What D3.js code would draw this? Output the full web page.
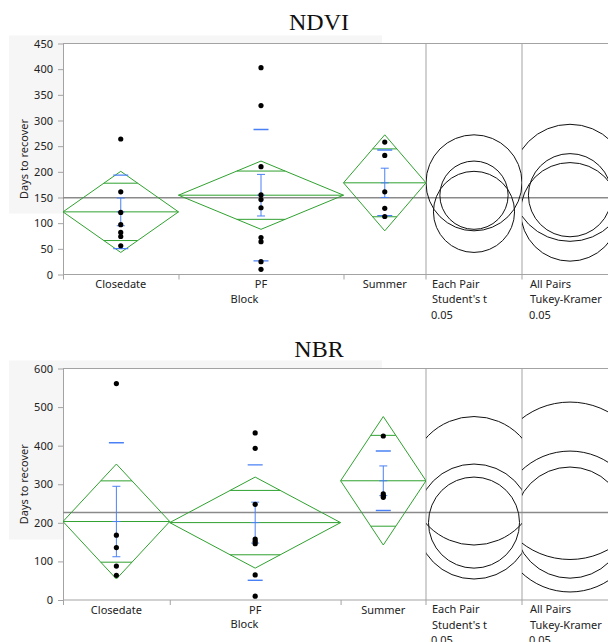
<!DOCTYPE html>
<html>
<head>
<meta charset="utf-8">
<script src="https://cdn.jsdelivr.net/npm/d3@7"></script>
<style>
  body { margin: 0; background: #fff; }
</style>
</head>
<body>
<div id="chart"></div>
<script>
/* One-way analysis of Days to recover by Block (NDVI / NBR) */

const groups = ["Closedate", "PF", "Summer"];

// NDVI panel
const ndviPoints = [
  [264, 161, 121, 97, 82, 74, 56],
  [403, 329, 210, 155, 146, 130, 72, 64, 25, 10],
  [258, 232, 161, 129, 113]
];
const ndviMean = [122, 154.5, 178.6];
const ndviCI = [79, 66.5, 93.5];      // 95% CI half width (diamond / Student's t circle)
const ndviSD = [71.5, 128, 64];
const ndviSE = [27, 40.5, 28.5];
const ndviTukey = [96, 81, 114];      // Tukey-Kramer circle radius
const ndviGrand = 149.5;
const ndviTicks = [0, 50, 100, 150, 200, 250, 300, 350, 400, 450];

// NBR panel
const nbrPoints = [
  [561, 168, 136, 88, 64],
  [433, 393, 248, 158, 152, 146, 65, 10],
  [425, 275, 270, 266]
];
const nbrMean = [203.4, 200.6, 309];
const nbrCI = [149, 118, 166.5];
const nbrSD = [204, 149.5, 77];
const nbrSE = [91.3, 53, 38.5];
const nbrTukey = [182.6, 144, 204];
const nbrGrand = 226.9;
const nbrTicks = [0, 100, 200, 300, 400, 500, 600];

const width = 608, height = 642;
const xLeft = 63, xRight = 426, cmpW = 96;
const green = "#2fa12f", blue = "#4a80f5", frame = "#a3a3a3";
const font = "'Noto Sans', sans-serif";

const svg = d3.select("#chart")
    .append("svg")
    .attr("width", width)
    .attr("height", height);

function drawPanel(p) {
  const g = svg.append("g");

  // light gray backdrop behind the axis area
  g.append("rect")
    .attr("x", 9).attr("y", p.top - 8)
    .attr("width", 373).attr("height", p.grayH)
    .attr("fill", "#f6f6f6");

  g.append("rect")
    .attr("x", xLeft).attr("y", p.top)
    .attr("width", width - xLeft).attr("height", p.bottom - p.top)
    .attr("fill", "#fff");

  // title
  g.append("text")
    .attr("x", 319).attr("y", p.titleY)
    .attr("text-anchor", "middle")
    .attr("font-family", "'Liberation Serif', serif")
    .attr("font-size", 24)
    .attr("fill", "#111")
    .text(p.title);

  const y = d3.scaleLinear().domain([0, p.max]).range([p.bottom, p.top]);

  const cum = [0];
  p.points.forEach(d => cum.push(cum[cum.length - 1] + d.length));
  const x = d3.scaleLinear().domain([0, cum[cum.length - 1]]).range([xLeft, xRight]);

  // y axis
  g.append("g")
    .attr("transform", `translate(${xLeft},0)`)
    .call(d3.axisLeft(y).tickValues(p.ticks).tickSize(5).tickSizeOuter(0).tickPadding(5))
    .attr("font-family", font)
    .attr("font-size", 11)
    .call(a => a.select(".domain").attr("stroke", frame))
    .call(a => a.selectAll(".tick line").attr("stroke", frame))
    .call(a => a.selectAll(".tick text").attr("fill", "#222"));

  // x axis ticks at group boundaries
  g.append("g")
    .attr("transform", `translate(0,${p.bottom})`)
    .call(d3.axisBottom(x).tickValues(cum.slice(0, -1)).tickSize(5).tickFormat(""))
    .call(a => a.select(".domain").remove())
    .call(a => a.selectAll(".tick line").attr("stroke", frame));

  // frame lines
  g.append("line")
    .attr("x1", xLeft).attr("x2", width).attr("y1", p.bottom).attr("y2", p.bottom)
    .attr("stroke", frame);
  g.append("line")
    .attr("x1", xLeft).attr("x2", width).attr("y1", p.top).attr("y2", p.top)
    .attr("stroke", frame);
  [xRight, xRight + cmpW].forEach(xx => {
    g.append("line")
      .attr("x1", xx).attr("x2", xx).attr("y1", p.top).attr("y2", p.bottom + 5)
      .attr("stroke", frame);
  });

  // grand mean
  g.append("line")
    .attr("x1", xLeft).attr("x2", width)
    .attr("y1", y(p.grand)).attr("y2", y(p.grand))
    .attr("stroke", "#8a8a8a").attr("stroke-width", 1.5);

  // clip for plot area
  const clipId = "clip-" + p.title;
  const defs = svg.append("defs");
  defs.append("clipPath").attr("id", clipId)
    .append("rect").attr("x", xLeft).attr("y", p.top)
    .attr("width", xRight - xLeft).attr("height", p.bottom - p.top - 1);
  [0, 1].forEach(k => {
    defs.append("clipPath").attr("id", clipId + "-c" + k)
      .append("rect").attr("x", xRight + k * cmpW).attr("y", p.top)
      .attr("width", cmpW).attr("height", p.bottom - p.top);
  });

  const plot = g.append("g").attr("clip-path", `url(#${clipId})`);

  groups.forEach((name, i) => {
    const x0 = x(cum[i]), x1 = x(cum[i + 1]), xc = (x0 + x1) / 2;
    const m = p.mean[i], c = p.ci[i];

    // means diamond
    const diamond = d3.path();
    diamond.moveTo(x0, y(m));
    diamond.lineTo(xc, y(m + c));
    diamond.lineTo(x1, y(m));
    diamond.lineTo(xc, y(m - c));
    diamond.closePath();
    plot.append("path").attr("d", diamond.toString())
      .attr("fill", "none").attr("stroke", green);

    plot.append("line")
      .attr("x1", x0).attr("x2", x1).attr("y1", y(m)).attr("y2", y(m))
      .attr("stroke", green);

    // overlap marks
    const hw = (x1 - x0) / 2 * (1 - Math.SQRT1_2);
    [m + c * Math.SQRT1_2, m - c * Math.SQRT1_2].forEach(v => {
      plot.append("line")
        .attr("x1", xc - hw).attr("x2", xc + hw).attr("y1", y(v)).attr("y2", y(v))
        .attr("stroke", green);
    });

    // std dev lines
    [m + p.sd[i], m - p.sd[i]].forEach(v => {
      plot.append("line")
        .attr("x1", xc - 7.5).attr("x2", xc + 7.5).attr("y1", y(v)).attr("y2", y(v))
        .attr("stroke", blue).attr("stroke-width", 1.4);
    });

    // mean error bar
    const se = p.se[i];
    plot.append("line")
      .attr("x1", xc).attr("x2", xc).attr("y1", y(m - se)).attr("y2", y(m + se))
      .attr("stroke", blue);
    [m - se, m, m + se].forEach(v => {
      plot.append("line")
        .attr("x1", xc - 4).attr("x2", xc + 4).attr("y1", y(v)).attr("y2", y(v))
        .attr("stroke", blue);
    });

    // points
    plot.selectAll(null)
      .data(p.points[i])
      .join("circle")
      .attr("cx", xc)
      .attr("cy", d => y(d))
      .attr("r", 2.6)
      .attr("fill", "#000");

    // category label
    g.append("text")
      .attr("x", xc).attr("y", p.bottom + 13.5)
      .attr("text-anchor", "middle")
      .attr("font-family", font).attr("font-size", 11).attr("fill", "#222")
      .text(name);
  });

  g.append("text")
    .attr("x", (xLeft + xRight) / 2).attr("y", p.bottom + 28)
    .attr("text-anchor", "middle")
    .attr("font-family", font).attr("font-size", 11).attr("fill", "#222")
    .text("Block");

  // y label
  g.append("text")
    .attr("transform", `translate(27.5,${(p.top + p.bottom) / 2}) rotate(-90)`)
    .attr("text-anchor", "middle")
    .attr("font-family", font).attr("font-size", 11).attr("fill", "#222")
    .text("Days to recover");

  // comparison circles
  [p.ci, p.tukey].forEach((radii, k) => {
    const cx = xRight + k * cmpW + cmpW / 2;
    g.append("g").attr("clip-path", `url(#${clipId}-c${k})`)
      .selectAll("circle")
      .data(groups.map((d, i) => ({ m: p.mean[i], r: radii[i] })))
      .join("circle")
      .attr("cx", cx)
      .attr("cy", d => y(d.m))
      .attr("r", d => y(0) - y(d.r))
      .attr("fill", "none")
      .attr("stroke", "#111");
  });

  const cmpLabels = [["Each Pair", "Student's t", "0.05"], ["All Pairs", "Tukey-Kramer", "0.05"]];
  cmpLabels.forEach((lines, k) => {
    lines.forEach((t, j) => {
      g.append("text")
        .attr("x", xRight + k * cmpW + (j == 2 ? 5 : 6) + k * 2)
        .attr("y", p.bottom + 13 + j * 15.5)
        .attr("font-family", font).attr("font-size", 11).attr("fill", "#222")
        .text(t);
    });
  });
}

drawPanel({
  title: "NDVI", titleY: 30, top: 43.5, bottom: 274.5, grayH: 178, max: 450,
  ticks: ndviTicks, points: ndviPoints, mean: ndviMean, ci: ndviCI,
  sd: ndviSD, se: ndviSE, tukey: ndviTukey, grand: ndviGrand
});

drawPanel({
  title: "NBR", titleY: 357, top: 368.5, bottom: 600, grayH: 179, max: 600,
  ticks: nbrTicks, points: nbrPoints, mean: nbrMean, ci: nbrCI,
  sd: nbrSD, se: nbrSE, tukey: nbrTukey, grand: nbrGrand
});
</script>
</body>
</html>
